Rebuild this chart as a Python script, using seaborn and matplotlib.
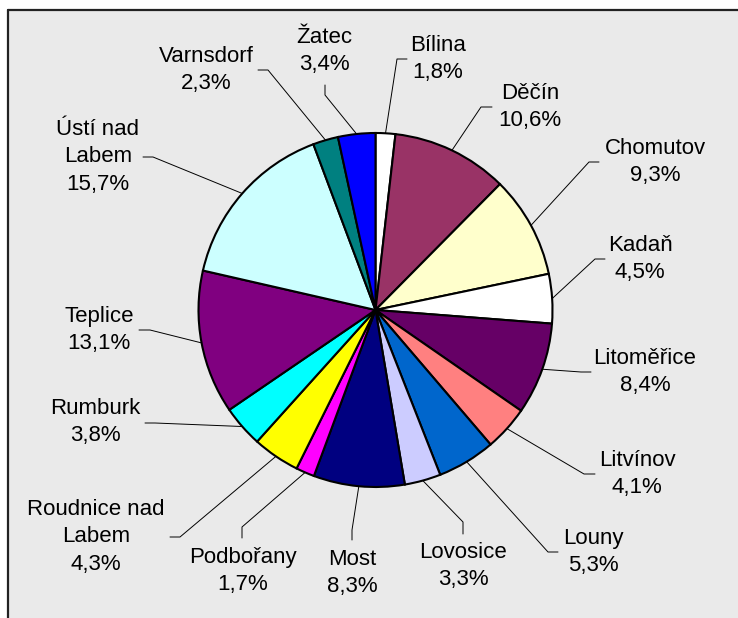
import matplotlib
matplotlib.use("Agg")
import matplotlib.pyplot as plt
import numpy as np
import seaborn as sns
from matplotlib.patches import Rectangle

# --- data (clockwise from 12 o'clock) ---
districts = ["Bílina", "Děčín", "Chomutov", "Kadaň", "Litoměřice", "Litvínov",
             "Louny", "Lovosice", "Most", "Podbořany", "Roudnice nad\nLabem",
             "Rumburk", "Teplice", "Ústí nad\nLabem", "Varnsdorf", "Žatec"]
shares = [1.8, 10.6, 9.3, 4.5, 8.4, 4.1, 5.3, 3.3, 8.3, 1.7, 4.3, 3.8, 13.1, 15.7, 2.3, 3.4]
colors = ["#FFFFFF", "#993366", "#FFFFCC", "#FFFFFF", "#660066", "#FF8080",
          "#0066CC", "#CCCCFF", "#000080", "#FF00FF", "#FFFF00", "#00FFFF",
          "#800080", "#CCFFFF", "#008080", "#0000FF"]

# --- layout in image pixels (x, y from top-left) ---
W, H = 738, 618
CX, CY, R = 375.5, 310, 177
text_pos = [(438, 59), (530, 107), (655, 162), (640, 259), (645, 372), (637, 474),
            (593, 552), (463, 566), (352, 573), (243, 571), (96, 537),
            (95, 422), (99, 330), (98, 157), (206, 70), (324, 51)]
stubs = [((407, 59), (397, 59)), ((492, 107), (481, 107)), ((599, 162), (589, 162)),
         ((605, 259), (595, 259)), ((591, 372), (581, 372)), ((595, 474), (584, 474)),
         ((558, 552), (548, 552)), ((463, 534), (463, 522)), ((352, 540), (352, 530)),
         ((242, 538), (242, 527)), ((170, 537), (180, 537)), ((145, 423), (155, 423)),
         ((139, 330), (150, 330)), ((143, 157), (153, 157)), ((258, 70), (268, 70)),
         ((325, 85), (325, 95))]

sns.set_style("white")
plt.rcParams["font.family"] = ["Liberation Sans", "DejaVu Sans"]

fig = plt.figure(figsize=(W / 100, H / 100), dpi=100)
ax = fig.add_axes([0, 0, 1, 1])


def fy(y):
    return H - y


# chart area background with top/left border
ax.add_patch(Rectangle((8, 0), W - 8, fy(10), facecolor="#EAEAEA", edgecolor="none", zorder=0))
ax.plot([8, W], [fy(10), fy(10)], color="#222222", lw=1.6, zorder=1)
ax.plot([8, 8], [0, fy(10)], color="#222222", lw=1.6, zorder=1)

ax.pie(shares, colors=colors, startangle=90, counterclock=False,
       center=(CX, fy(CY)), radius=R, frame=True,
       wedgeprops=dict(edgecolor="black", linewidth=1.5))

total = sum(shares)
cum = np.cumsum([0] + shares[:-1])
for name, v, c0, tp, (s0, s1) in zip(districts, shares, cum, text_pos, stubs):
    theta = np.deg2rad(90 - 360 * (c0 + v / 2) / total)
    ex, ey = CX + R * np.cos(theta), fy(CY) + R * np.sin(theta)
    ax.plot([s0[0], s1[0], ex], [fy(s0[1]), fy(s1[1]), ey], color="black", lw=0.7, zorder=3)
    label = f"{name}\n{v:.1f}%".replace(".", ",")
    ax.text(tp[0], fy(tp[1]), label, ha="center", va="center", fontsize=16,
            linespacing=1.38, color="black", zorder=4)

ax.set_xlim(0, W)
ax.set_ylim(0, H)
ax.set_aspect("equal")
ax.set_axis_off()
fig.savefig("out.png", dpi=100, facecolor="white")
